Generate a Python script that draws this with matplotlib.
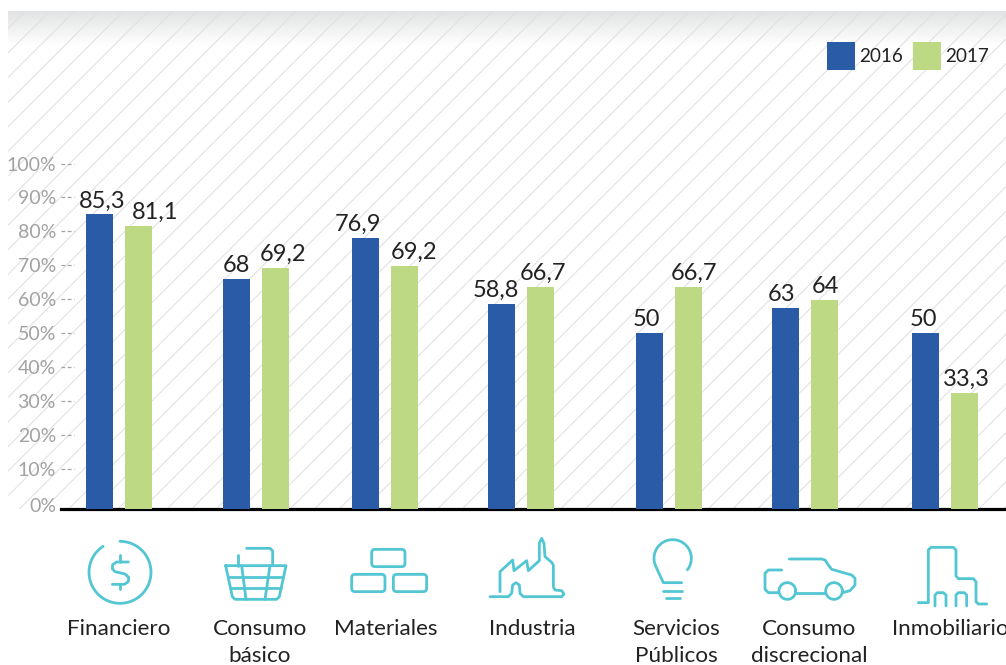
import matplotlib
matplotlib.use('Agg')
import matplotlib.pyplot as plt
import matplotlib.transforms as mtrans
from matplotlib.colors import LinearSegmentedColormap
from matplotlib.patches import FancyBboxPatch, Rectangle
import numpy as np

plt.rcParams['font.family'] = ['Lato', 'DejaVu Sans']

# Values (the bars do not follow their printed labels exactly)
sectors = ['Financiero', 'Consumo\nbásico', 'Materiales', 'Industria',
           'Servicios\nPúblicos', 'Consumo\ndiscrecional', 'Inmobiliario']
bars_2016 = [85.0, 65.9, 78.1, 58.6, 49.9, 57.3, 49.9]
bars_2017 = [81.6, 69.1, 69.8, 63.6, 63.6, 59.6, 32.4]
labels_2016 = ['85,3', '68', '76,9', '58,8', '50', '63', '50']
labels_2017 = ['81,1', '69,2', '69,2', '66,7', '66,7', '64', '33,3']
y_ticks = [0, 10, 20, 30, 40, 50, 60, 70, 80, 90, 100]
y_tick_labels = ['0%', '10%', '20%', '30%', '40%', '50%', '60%', '70%', '80%', '90%', '100%']

# Layout, in pixels of the 1006x665 picture
W, H = 1006, 665
group_x = np.array([119, 256, 385, 521, 669, 805, 945])
sector_x = [119, 260, 386, 532, 676, 809, 950]
shift_2016 = [2.5, 0.2, -7.2, -5.8, -2.8, -3.8, -2.2]
shift_2017 = [16.5, 7.2, 9.8, 2.8, 5.5, 0.5, 2.2]

BLUE = '#2a5ba6'
GREEN = '#bdd984'
TEAL = '#53c6d3'
INK = '#222222'
GREY = '#a2a2a2'

fig = plt.figure(figsize=(W / 100, H / 100), dpi=100)

# Pixel overlay for the background and the icons
bg = fig.add_axes([0, 0, 1, 1], zorder=0)
bg.axis('off')

grad = np.linspace(0, 1, 40).reshape(-1, 1)
bg.imshow(grad, extent=(8, W, 46, 11), cmap=LinearSegmentedColormap.from_list('g', ['#e2e3e4', '#ffffff']),
          aspect='auto', zorder=1)
bg.set_xlim(0, W)
bg.set_ylim(H, 0)

clip = Rectangle((8, 11), W - 8, 498, transform=bg.transData)
for c in np.arange(61 - 24.6 * 2, W + 520, 24.6):
    line, = bg.plot([c - 11, c - 509], [11, 509], color='#e0e0e0', lw=0.75, zorder=2)
    line.set_clip_path(clip)


def stroke(points, ox, oy):
    pts = np.array(points, dtype=float)
    bg.plot(ox + pts[:, 0] / 3, oy + pts[:, 1] / 3, color=TEAL, lw=2.0,
            solid_capstyle='round', solid_joinstyle='round', zorder=3)


def arc(cx, cy, r, a0, a1):
    a = np.radians(np.linspace(a0, a1, 80))
    return np.column_stack([cx + r * np.cos(a), cy - r * np.sin(a)])


# Financiero
ox, oy = 60, 500
stroke(arc(180, 217, 93, 90, -237), ox, oy)
stroke([(205, 186), (170, 186), (158, 194), (157, 206), (165, 215), (195, 222), (206, 232),
        (205, 245), (193, 253), (157, 253)], ox, oy)
stroke([(180, 165), (180, 186)], ox, oy)
stroke([(180, 253), (180, 268)], ox, oy)

# Consumo basico
stroke([(560, 145), (630, 145), (638, 153), (638, 197)], ox, oy)
stroke([(535, 165), (535, 197)], ox, oy)
stroke([(497, 197), (678, 197), (658, 290), (650, 298), (525, 298), (517, 290), (497, 197)], ox, oy)
stroke([(505, 230), (670, 230)], ox, oy)
stroke([(512, 265), (662, 265)], ox, oy)
stroke([(545, 197), (558, 298)], ox, oy)
stroke([(630, 197), (615, 298)], ox, oy)

# Materiales
for x0, y0 in [(935, 148), (875, 223), (1000, 223)]:
    bg.add_patch(FancyBboxPatch((ox + (x0 + 10) / 3, oy + (y0 + 10) / 3), 80 / 3, 32 / 3,
                                boxstyle='round,pad=3.3,rounding_size=3.3', fc='none', ec=TEAL, lw=2.0, zorder=3))

# Industria
stroke([(30, 185), (30, 125), (68, 90), (72, 122), (110, 92), (115, 122), (148, 92), (148, 40),
        (155, 25), (162, 40), (165, 80), (185, 97), (190, 105), (190, 170), (195, 180), (215, 182),
        (222, 192), (215, 200), (100, 200), (90, 190), (88, 165), (78, 158), (68, 165), (65, 190),
        (55, 200), (0, 200)], 490, 530)

# Servicios publicos
ox, oy = 530, 500
stroke(list(arc(428, 175, 56, -38, 205)) + [(400, 248), (455, 248)], ox, oy)
stroke([(400, 272), (455, 272)], ox, oy)
stroke([(408, 295), (450, 295)], ox, oy)

# Consumo discrecional
stroke([(755, 210), (715, 210), (705, 220), (705, 268), (715, 278), (745, 278)], ox, oy)
stroke(arc(772, 273, 25, 0, 360), ox, oy)
stroke(arc(912, 273, 25, 0, 360), ox, oy)
stroke([(798, 278), (885, 278)], ox, oy)
stroke([(938, 278), (960, 272), (975, 255), (975, 235), (965, 225), (905, 208), (895, 195),
        (885, 180), (875, 177), (778, 177)], ox, oy)

# Inmobiliario
stroke([(1165, 308), (1195, 308), (1195, 150), (1203, 142), (1270, 142), (1278, 150), (1278, 228),
        (1285, 236), (1330, 236), (1338, 245), (1338, 305), (1345, 312), (1370, 312)], ox, oy)
stroke([(1215, 318), (1215, 285), (1222, 278), (1240, 278), (1248, 285), (1248, 318)], ox, oy)
stroke([(1278, 318), (1278, 285), (1285, 278), (1303, 278), (1310, 285), (1310, 318)], ox, oy)

for x, name in zip(sector_x, sectors):
    first, *rest = name.split('\n')
    bg.text(x, 635, first, ha='center', va='baseline', fontsize=16.2, color=INK, zorder=4)
    if rest:
        bg.text(x, 662, rest[0], ha='center', va='baseline', fontsize=16.2, color=INK, zorder=4)

# Main chart: 3.39 px per percentage point, zero tick sits above the drawn baseline
PX = 3.39
BASE = (502.5 - 509) / PX
ax = fig.add_axes([61 / W, (H - 509) / H, (W - 61) / W, 498 / H], zorder=1)
ax.patch.set_alpha(0)
ax.set_xlim(61, W)
ax.set_ylim(BASE, (502.5 - 11) / PX)

h16 = np.array(bars_2016) - BASE
h17 = np.array(bars_2017) - BASE
ax.bar(group_x - 19.5, h16, 27, bottom=BASE, color=BLUE, label='2016', zorder=3)
ax.bar(group_x + 19.5, h17, 27, bottom=BASE, color=GREEN, label='2017', zorder=3)

for x, v, txt, dx in zip(group_x - 19.5, bars_2016, labels_2016, shift_2016):
    ax.annotate(txt, (x, v), xytext=(dx, 7), textcoords='offset pixels', ha='center', va='baseline',
                fontsize=17, color=INK, zorder=4)
for x, v, txt, dx in zip(group_x + 19.5, bars_2017, labels_2017, shift_2017):
    ax.annotate(txt, (x, v), xytext=(dx, 7), textcoords='offset pixels', ha='center', va='baseline',
                fontsize=17, color=INK, zorder=4)

ax.set_xticks([])
ax.set_yticks(y_ticks)
ax.set_yticklabels(y_tick_labels, fontsize=14, color=GREY)
ax.tick_params(axis='y', length=0, pad=3.6)
ax.yaxis.get_ticklabels()[0].set_transform(
    ax.yaxis.get_ticklabels()[0].get_transform() + mtrans.ScaledTranslation(0, -2.5 / 100, fig.dpi_scale_trans))
ax.hlines(y_ticks[1:], 61, 74, colors=GREY, lw=0.9, linestyles=(0, (3, 2)), zorder=2)

for side in ['top', 'right', 'left']:
    ax.spines[side].set_visible(False)
ax.spines['bottom'].set_linewidth(2.3)
ax.spines['bottom'].set_color('black')

ax.legend(loc='upper right', bbox_to_anchor=(989 / W, (H - 42) / H), bbox_transform=fig.transFigure,
          ncols=2, frameon=False, fontsize=13.6, labelcolor=INK, borderpad=0, borderaxespad=0,
          handlelength=1.47, handleheight=1.885, handletextpad=0.25, columnspacing=0.5)

fig.savefig('out.png', dpi=100)
